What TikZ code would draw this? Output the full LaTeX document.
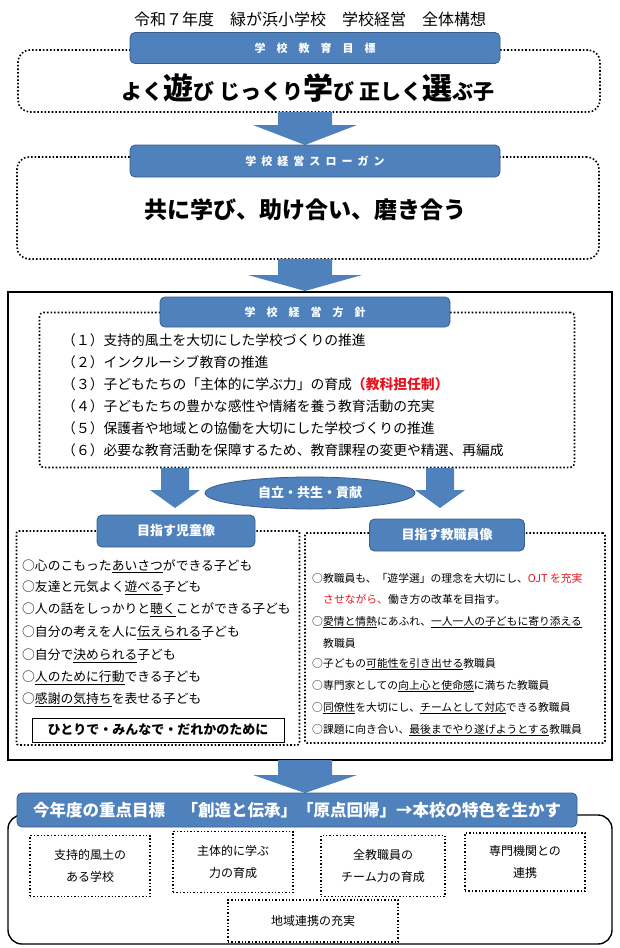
\documentclass[tikz,border=0pt]{standalone}
\usepackage{fontspec}
\setmainfont{Noto Sans CJK JP}
\usetikzlibrary{positioning,shapes.geometric}
\definecolor{hdblue}{RGB}{79,129,189}
\definecolor{hdedge}{RGB}{56,93,138}
\definecolor{redtxt}{RGB}{230,20,30}
\newcommand{\rt}[1]{\textcolor{redtxt}{#1}}
% block arrow: x, top, tip, shaft half width, head half width, head length
\newcommand{\blockarrow}[6]{%
  \fill[hdblue] (#1-#4,#2) -- (#1+#4,#2) -- (#1+#4,#3-#6) -- (#1+#5,#3-#6) -- (#1,#3)
    -- (#1-#5,#3-#6) -- (#1-#4,#3-#6) -- cycle;}
\tikzset{
header/.style={rectangle, rounded corners=5pt, fill=hdblue, draw=hdedge, thick, text=white, font=\bfseries, inner sep=0pt},
dotbox/.style={rectangle, rounded corners=12pt, draw, line width=1.6pt, dotted, inner sep=0pt},
smallbox/.style={rectangle, draw, line width=1.4pt, dotted, inner sep=0pt, align=center, font=\fontsize{12}{22}\selectfont},
item/.style={anchor=west, inner sep=0pt}
}
\begin{document}
\begin{tikzpicture}[x=1pt,y=-1pt]
\useasboundingbox (0,0) rectangle (619,948);

% title
\node (title) at (310,19) {\fontsize{16}{16}\selectfont 令和７年度\quad 緑が浜小学校\quad 学校経営\quad 全体構想};

% school goal
\node[dotbox, minimum width=582pt, minimum height=62pt] (goal) at (309,81) {};
\node[header, minimum width=370pt, minimum height=31pt] (goalhd) at (315,48) {\fontsize{11}{11}\selectfont 学\quad 校\quad 教\quad 育\quad 目\quad 標};
\node (goaltxt) at (308,88) {\bfseries\fontsize{21}{21}\selectfont よく{\fontsize{30}{30}\selectfont 遊}び\ じっくり{\fontsize{30}{30}\selectfont 学}び\ 正しく{\fontsize{30}{30}\selectfont 選}ぶ子};

\blockarrow{305}{112}{145}{27}{52}{20}

% slogan
\node[dotbox, minimum width=582pt, minimum height=102pt] (slogan) at (308,208) {};
\node[header, minimum width=370pt, minimum height=32pt] (sloganhd) at (315,161) {\fontsize{11}{11}\selectfont 学\ \ 校\ \ 経\ \ 営\ \ ス\ \ ロ\ \ ー\ \ ガ\ \ ン};
\node (slogantxt) at (305,210) {\bfseries\fontsize{23}{23}\selectfont 共に学び、助け合い、磨き合う};

\blockarrow{305}{259}{291}{27}{57}{16}

% policy frame
\draw[line width=1.2pt] (8,292) rectangle (612,760);
\node[dotbox, rounded corners=4pt, minimum width=535pt, minimum height=155pt] (policy) at (307,390) {};
\node[header, minimum width=290pt, minimum height=30pt] (policyhd) at (305,312) {\fontsize{11}{11}\selectfont 学\quad 校\quad 経\quad 営\quad 方\quad 針};
\begin{scope}[font=\fontsize{13.8}{13.8}\selectfont]
\node[item] (p1) at (62,340) {（１）支持的風土を大切にした学校づくりの推進};
\node[item] (p2) at (62,362) {（２）インクルーシブ教育の推進};
\node[item] (p3) at (62,384) {（３）子どもたちの「主体的に学ぶ力」の育成\rt{\bfseries（教科担任制）}};
\node[item] (p4) at (62,406) {（４）子どもたちの豊かな感性や情緒を養う教育活動の充実};
\node[item] (p5) at (62,428) {（５）保護者や地域との協働を大切にした学校づくりの推進};
\node[item] (p6) at (62,450) {（６）必要な教育活動を保障するため、教育課程の変更や精選、再編成};
\end{scope}

\blockarrow{175}{468}{508}{14}{25}{18}
\blockarrow{440}{468}{508}{14}{25}{18}
\node[ellipse, fill=hdblue, draw=hdedge, thick, minimum width=210pt, minimum height=32pt, text=white, font=\bfseries\fontsize{13}{13}\selectfont] (motto) at (310,493) {自立・共生・貢献};

% children
\node[dotbox, rounded corners=2pt, minimum width=283pt, minimum height=214pt] (child) at (158,638) {};
\node[header, minimum width=158pt, minimum height=32pt] (childhd) at (176,531) {\fontsize{13}{13}\selectfont 目指す児童像};
\begin{scope}[font=\fontsize{12.8}{12.8}\selectfont]
\node[item] (c1) at (22,566) {○心のこもった\underline{あいさつ}ができる子ども};
\node[item] (c2) at (22,588) {○友達と元気よく\underline{遊べる}子ども};
\node[item] (c3) at (22,610) {○人の話をしっかりと\underline{聴く}ことができる子ども};
\node[item] (c4) at (22,633) {○自分の考えを人に\underline{伝えられる}子ども};
\node[item] (c5) at (22,656) {○自分で\underline{決められる}子ども};
\node[item] (c6) at (22,678) {○\underline{人のために}\underline{行動}できる子ども};
\node[item] (c7) at (22,700) {○\underline{感謝の気持ち}を表せる子ども};
\end{scope}
\node[draw, thick, minimum width=252pt, minimum height=24pt, inner sep=0pt, font=\bfseries\fontsize{13}{13}\selectfont] (childmotto) at (158,730) {ひとりで・みんなで・だれかのために};

% staff
\node[dotbox, rounded corners=2pt, minimum width=300pt, minimum height=210pt] (staff) at (455,638) {};
\node[header, minimum width=155pt, minimum height=32pt] (staffhd) at (447,535) {\fontsize{13}{13}\selectfont 目指す教職員像};
\begin{scope}[font=\fontsize{10.8}{10.8}\selectfont]
\node[item] (s1) at (312,578) {○教職員も、「遊学選」の理念を大切にし、\rt{OJT を充実}};
\node[item] (s1b) at (323,599) {\rt{させながら、}働き方の改革を目指す。};
\node[item] (s2) at (312,622) {○\underline{愛情と情熱}にあふれ、\underline{一人一人の子どもに寄り添える}};
\node[item] (s2b) at (323,643) {教職員};
\node[item] (s3) at (312,664) {○子どもの\underline{可能性を引き出せる}教職員};
\node[item] (s4) at (312,686) {○専門家としての\underline{向上心と使命感}に満ちた教職員};
\node[item] (s5) at (312,708) {○\underline{同僚性}を大切にし、\underline{チームとして対応}できる教職員};
\node[item] (s6) at (312,730) {○課題に向き合い、\underline{最後までやり遂げようとする}教職員};
\end{scope}

\blockarrow{305}{760}{793}{27}{52}{18}

% yearly focus
\draw[line width=1.4pt, rounded corners=14pt] (8,815) rectangle (612,944);
\node[header, minimum width=560pt, minimum height=34pt] (focushd) at (297,810) {\fontsize{16.5}{16.5}\selectfont 今年度の重点目標\quad 「創造と伝承」「原点回帰」→本校の特色を生かす};
\node[smallbox, minimum width=120pt, minimum height=61pt] (f1) at (90,866) {支持的風土の\\ある学校};
\node[smallbox, minimum width=120pt, minimum height=61pt] (f2) at (233,862) {主体的に学ぶ\\力の育成};
\node[smallbox, minimum width=124pt, minimum height=61pt] (f3) at (383,866) {全教職員の\\チーム力の育成};
\node[smallbox, minimum width=120pt, minimum height=58pt] (f4) at (525,862) {専門機関との\\連携};
\node[smallbox, minimum width=170pt, minimum height=42pt] (f5) at (313,921) {地域連携の充実};
\end{tikzpicture}
\end{document}
